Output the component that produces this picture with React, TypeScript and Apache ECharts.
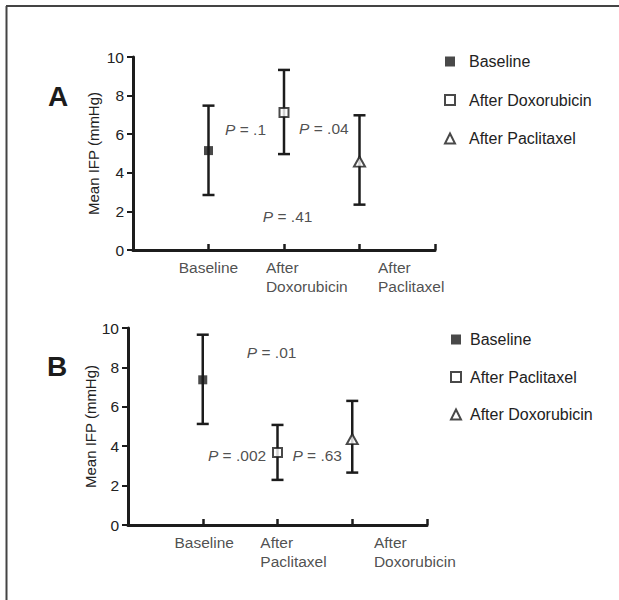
import React, { useEffect, useRef } from 'react';
import * as echarts from 'echarts';

// ---------- data ----------
const catsA = ['Baseline', 'After\nDoxorubicin', 'After\nPaclitaxel'];
const legendA = ['Baseline', 'After Doxorubicin', 'After Paclitaxel'];
const meanA = [5.15, 7.13, 4.58];
const lowA = [2.85, 4.97, 2.35];
const highA = [7.48, 9.33, 6.98];
const pValsA = ['.1', '.04', '.41'];

const catsB = ['Baseline', 'After\nPaclitaxel', 'After\nDoxorubicin'];
const legendB = ['Baseline', 'After Paclitaxel', 'After Doxorubicin'];
const meanB = [7.37, 3.68, 4.36];
const lowB = [5.13, 2.29, 2.66];
const highB = [9.66, 5.08, 6.3];
const pValsB = ['.01', '.002', '.63'];

const yTicks = { min: 0, max: 10, interval: 2 };
const yName = 'Mean IFP (mmHg)';
const panelLetters = ['A', 'B'];

// ---------- placement (data coords for annotations) ----------
const catLabelXA = [1, 1.76, 3.245];
const catLabelXB = [1.02, 1.77, 3.29];
const catAlign = ['center', 'left', 'left'];
const pPosA = [[1.22, 6.22], [2.2, 6.32], [1.72, 1.73]];
const pPosB = [[1.59, 8.78], [1.07, 3.52], [2.2, 3.52]];

// ---------- styles ----------
const FONT = '"Liberation Sans", Arial, Helvetica, sans-serif';
const INK = '#1c1c1c';
const TXT = '#222222';

const markerStyles = [
  { symbol: 'rect', symbolSize: 9, itemStyle: { color: INK, borderColor: INK, borderWidth: 0 } },
  { symbol: 'rect', symbolSize: 9, itemStyle: { color: '#ffffff', borderColor: INK, borderWidth: 2 } },
  { symbol: 'triangle', symbolSize: [11, 10], itemStyle: { color: '#ffffff', borderColor: INK, borderWidth: 2 } },
];
const legendIconStyles = [
  { color: INK, borderColor: INK, borderWidth: 0 },
  { color: '#ffffff', borderColor: INK, borderWidth: 2 },
  { color: '#ffffff', borderColor: INK, borderWidth: 2 },
];

function buildPanel(
  i: number,
  cats: string[],
  names: string[],
  means: number[],
  lows: number[],
  highs: number[],
  pVals: string[],
  pPos: number[][],
  catX: number[],
  yNameGap: number
) {
  const xAxis = {
    gridIndex: i,
    type: 'value',
    min: 0,
    max: 4,
    interval: 1,
    axisLine: { show: true, lineStyle: { color: INK, width: 3 } },
    axisTick: { show: true, inside: true, length: 6, lineStyle: { color: INK, width: 2.5 } },
    axisLabel: { show: false },
    splitLine: { show: false },
  };
  const yAxis = {
    gridIndex: i,
    type: 'value',
    min: yTicks.min,
    max: yTicks.max,
    interval: yTicks.interval,
    name: yName,
    nameLocation: 'middle',
    nameGap: yNameGap,
    nameTextStyle: { fontSize: 15, color: TXT, fontFamily: FONT },
    axisLine: { show: true, lineStyle: { color: INK, width: 3 } },
    axisTick: { show: true, length: 6, lineStyle: { color: INK, width: 2 } },
    axisLabel: { fontSize: 15.5, color: TXT, margin: 9, fontFamily: FONT },
    splitLine: { show: false },
  };
  const series: any[] = [];
  series.push({
    type: 'custom',
    xAxisIndex: i,
    yAxisIndex: i,
    silent: true,
    z: 2,
    data: means.map((_, k) => [k + 1, lows[k], highs[k]]),
    renderItem: (_params: any, api: any) => {
      const x = api.value(0);
      const lo = api.coord([x, api.value(1)]);
      const hi = api.coord([x, api.value(2)]);
      const hw = 6;
      const style = { stroke: INK, lineWidth: 2.5 };
      return {
        type: 'group',
        children: [
          { type: 'line', shape: { x1: lo[0], y1: lo[1], x2: hi[0], y2: hi[1] }, style },
          { type: 'line', shape: { x1: lo[0] - hw, y1: lo[1], x2: lo[0] + hw, y2: lo[1] }, style },
          { type: 'line', shape: { x1: hi[0] - hw, y1: hi[1], x2: hi[0] + hw, y2: hi[1] }, style },
        ],
      };
    },
  });
  names.forEach((n, k) => {
    series.push({
      name: n,
      type: 'scatter',
      xAxisIndex: i,
      yAxisIndex: i,
      z: 5,
      silent: true,
      symbol: markerStyles[k].symbol,
      symbolSize: markerStyles[k].symbolSize,
      itemStyle: markerStyles[k].itemStyle,
      data: [[k + 1, means[k]]],
    });
  });
  // category labels under the axis
  series.push({
    type: 'scatter',
    xAxisIndex: i,
    yAxisIndex: i,
    silent: true,
    symbolSize: 0,
    z: 6,
    data: cats.map((c, k) => ({ name: c, value: [catX[k], 0], label: { align: catAlign[k] } })),
    label: {
      show: true,
      position: 'bottom',
      distance: 8,
      formatter: (p: any) => p.name,
      fontSize: 15.5,
      lineHeight: 19,
      color: TXT,
      fontFamily: FONT,
    },
  });
  // P-value annotations
  series.push({
    type: 'scatter',
    xAxisIndex: i,
    yAxisIndex: i,
    silent: true,
    symbolSize: 0,
    z: 6,
    data: pVals.map((v, k) => ({ name: v, value: pPos[k] })),
    label: {
      show: true,
      position: 'right',
      distance: 0,
      formatter: (p: any) => '{i|P} = ' + p.name,
      fontSize: 15.5,
      color: TXT,
      fontFamily: FONT,
      rich: { i: { fontStyle: 'italic', fontSize: 15.5, color: TXT, fontFamily: FONT } },
    },
  });
  return { xAxis, yAxis, series };
}

export default function App() {
  const ref = useRef<HTMLDivElement>(null);
  useEffect(() => {
    if (!ref.current) return;
    const chart = echarts.init(ref.current, null, { renderer: 'svg' });
    const a = buildPanel(0, catsA, legendA, meanA, lowA, highA, pValsA, pPosA, catLabelXA, 32);
    const b = buildPanel(1, catsB, legendB, meanB, lowB, highB, pValsB, pPosB, catLabelXB, 28);
    const legendItems = (names: string[]) =>
      names.map((n, k) => ({ name: n, icon: markerStyles[k].symbol, itemStyle: legendIconStyles[k] }));
    chart.setOption({
      animation: false,
      backgroundColor: '#ffffff',
      textStyle: { fontFamily: FONT },
      grid: [
        { left: 133, top: 57, width: 302, height: 193 },
        { left: 128, top: 328, width: 299, height: 197 },
      ],
      xAxis: [a.xAxis, b.xAxis],
      yAxis: [a.yAxis, b.yAxis],
      legend: [
        {
          orient: 'vertical',
          left: 439,
          top: 48.5,
          itemWidth: 10,
          itemHeight: 10,
          itemGap: 22.5,
          selectedMode: false,
          textStyle: { fontSize: 16, color: TXT, fontFamily: FONT, padding: [0, 0, 0, 9] },
          data: legendItems(legendA),
        },
        {
          orient: 'vertical',
          left: 445,
          top: 326.5,
          itemWidth: 10,
          itemHeight: 10,
          itemGap: 21.5,
          selectedMode: false,
          textStyle: { fontSize: 16, color: TXT, fontFamily: FONT, padding: [0, 0, 0, 4] },
          data: legendItems(legendB),
        },
      ],
      graphic: [
        { type: 'line', shape: { x1: 6, y1: 6, x2: 619, y2: 6 }, style: { stroke: '#444', lineWidth: 2 } },
        { type: 'line', shape: { x1: 6.5, y1: 6, x2: 6.5, y2: 600 }, style: { stroke: '#444', lineWidth: 2 } },
        {
          type: 'text',
          x: 58,
          y: 96,
          style: { text: panelLetters[0], fontSize: 28, fontWeight: 'bold', fontFamily: FONT, fill: INK, align: 'center', verticalAlign: 'middle' },
        },
        {
          type: 'text',
          x: 57,
          y: 366,
          style: { text: panelLetters[1], fontSize: 28, fontWeight: 'bold', fontFamily: FONT, fill: INK, align: 'center', verticalAlign: 'middle' },
        },
      ],
      series: [...a.series, ...b.series],
    });
    return () => chart.dispose();
  }, []);
  return <div ref={ref} style={{ position: 'fixed', left: 0, top: 0, width: 619, height: 600 }} />;
}
